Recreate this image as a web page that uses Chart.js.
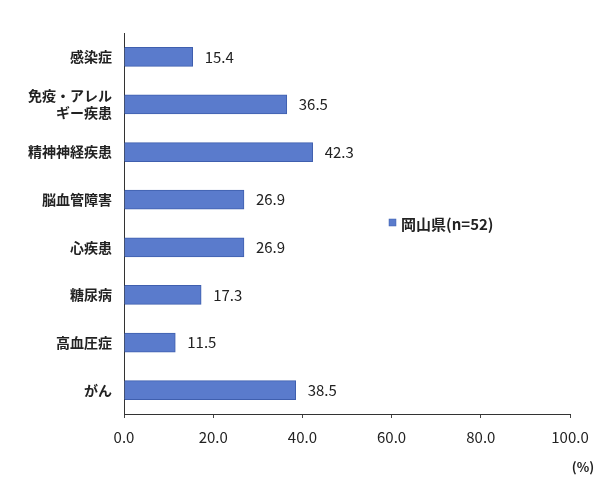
<!DOCTYPE html>
<html>
<head>
<meta charset="utf-8">
<script src="https://cdn.jsdelivr.net/npm/chart.js@4"></script>
<style>
  html, body { margin: 0; padding: 0; background: #fff; }
  #wrap { width: 614px; height: 493px; position: relative; }
</style>
</head>
<body>
<div id="wrap"><canvas id="chart" width="614" height="493"></canvas></div>
<script>
const categories = ["感染症", ["免疫・アレル", "ギー疾患"], "精神神経疾患", "脳血管障害", "心疾患", "糖尿病", "高血圧症", "がん"];
const values = [15.4, 36.5, 42.3, 26.9, 26.9, 17.3, 11.5, 38.5];
const seriesLabel = "岡山県(n=52)";
const unitLabel = "(%)";

const FONT = "'Noto Sans CJK JP', 'Noto Sans', sans-serif";
const barColor = "#5a7bcc";
const barBorder = "#3f5fae";

// value labels, legend and unit text
const extras = {
  id: "extras",
  afterDatasetsDraw(chart) {
    const ctx = chart.ctx;
    const meta = chart.getDatasetMeta(0);
    ctx.save();
    ctx.font = "15px " + FONT;
    ctx.fillStyle = "#222";
    ctx.textBaseline = "middle";
    ctx.textAlign = "left";
    meta.data.forEach((bar, i) => {
      ctx.fillText(values[i].toFixed(1), bar.x + 12, bar.y);
    });

    // legend
    ctx.fillStyle = barColor;
    ctx.fillRect(389, 219, 7, 7);
    ctx.strokeStyle = barBorder;
    ctx.lineWidth = 0.5;
    ctx.strokeRect(389, 219, 7, 7);
    ctx.fillStyle = "#222";
    ctx.font = "bold 15px " + FONT;
    ctx.fillText(chart.data.datasets[0].label, 401, 224);

    // unit
    ctx.font = "bold 13px " + FONT;
    ctx.textAlign = "center";
    ctx.fillText(unitLabel, 583, 467);
    ctx.restore();
  }
};

new Chart(document.getElementById("chart"), {
  type: "bar",
  data: {
    labels: categories,
    datasets: [{
      label: seriesLabel,
      data: values,
      backgroundColor: barColor,
      borderColor: barBorder,
      borderWidth: 1,
      barThickness: 19
    }]
  },
  options: {
    indexAxis: "y",
    responsive: false,
    animation: false,
    devicePixelRatio: 1,
    layout: { padding: { top: 33, right: 44, bottom: 0, left: 0 } },
    plugins: {
      legend: { display: false },
      tooltip: { enabled: false }
    },
    scales: {
      x: {
        min: 0,
        max: 100,
        ticks: {
          stepSize: 20,
          padding: 10,
          color: "#222",
          font: { family: FONT, size: 15 },
          callback: v => v.toFixed(1)
        },
        grid: { drawOnChartArea: false, tickLength: 4, color: "#444" },
        border: { display: true, color: "#333", width: 1 },
        afterFit(s) { s.height = 79; }
      },
      y: {
        ticks: {
          padding: 12,
          color: "#222",
          font: { family: FONT, size: 14, weight: "bold" },
          autoSkip: false
        },
        grid: { drawOnChartArea: false, drawTicks: false },
        border: { display: true, color: "#333", width: 1 },
        afterFit(s) { s.width = 124; }
      }
    }
  },
  plugins: [extras]
});
</script>
</body>
</html>
